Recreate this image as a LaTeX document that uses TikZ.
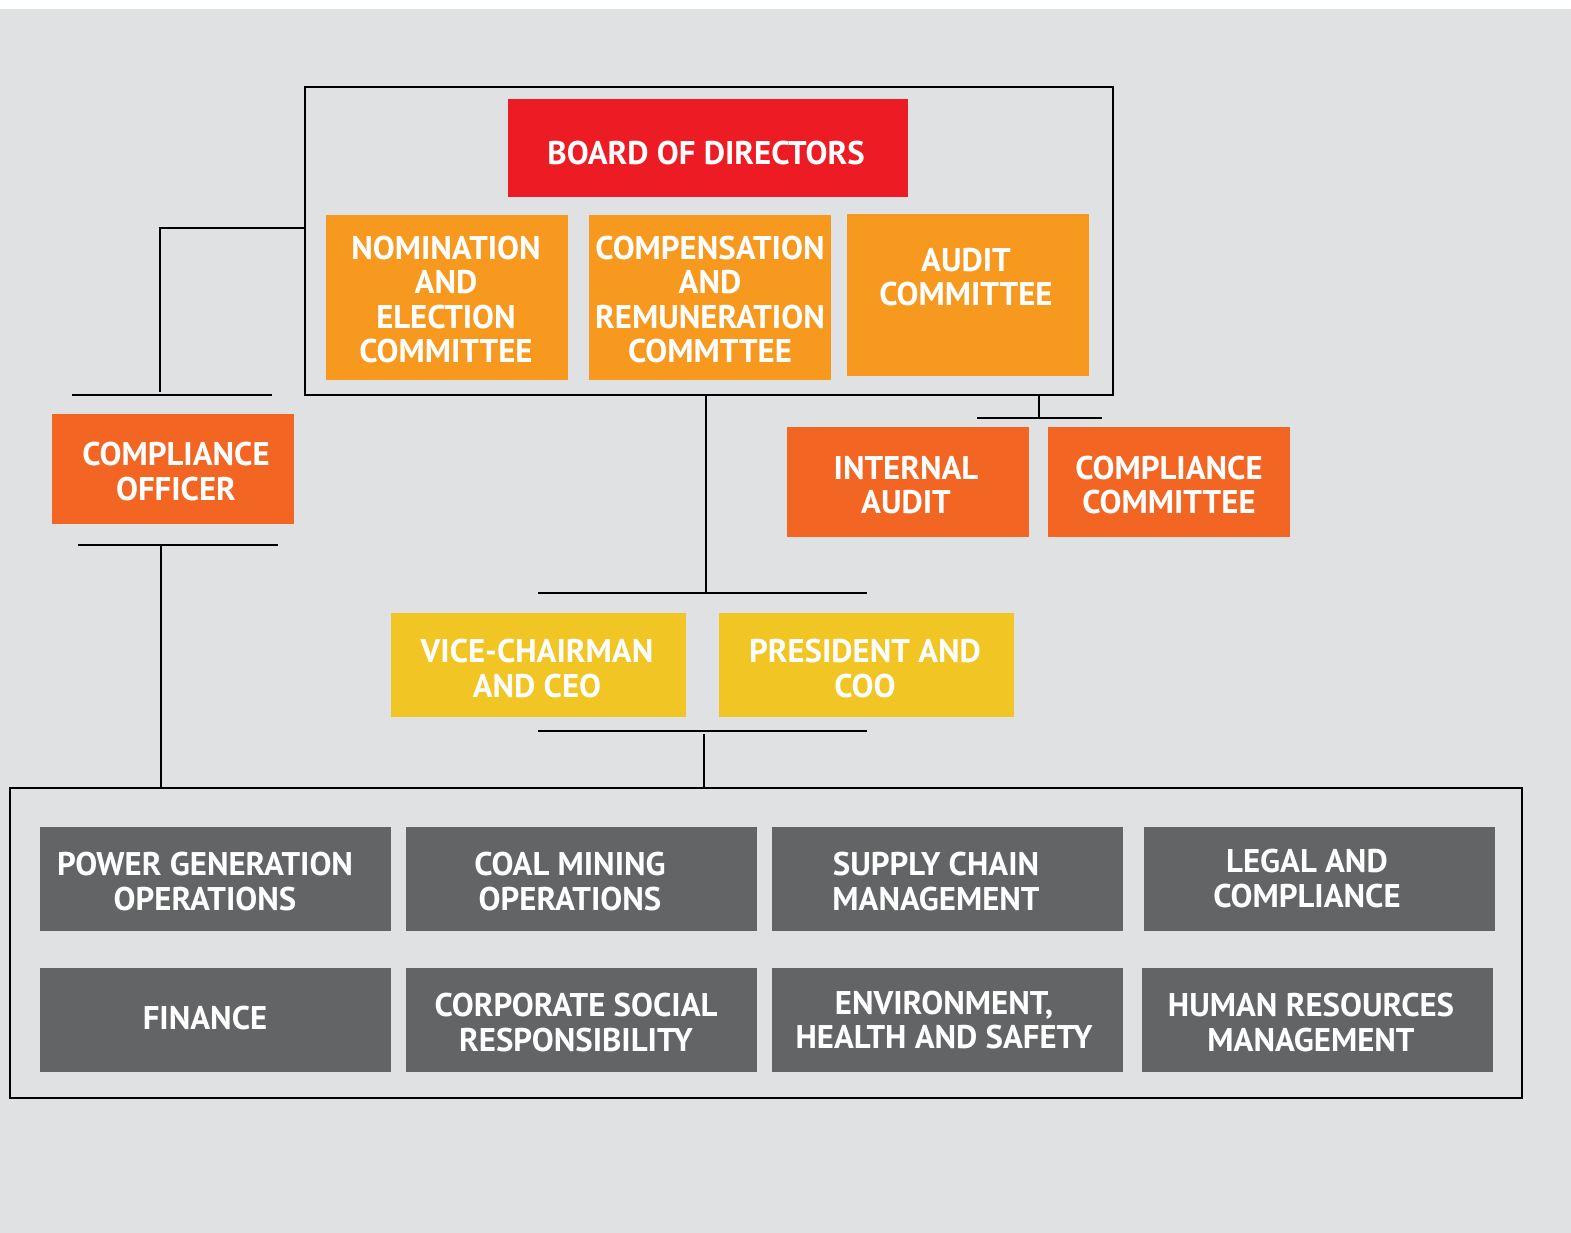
\documentclass[tikz,border=0pt]{standalone}
\usepackage{fontspec}
\setmainfont{PT Sans}
\definecolor{bgray}{HTML}{E0E1E3}
\definecolor{boardred}{HTML}{ED1C24}
\definecolor{cmtorange}{HTML}{F7981F}
\definecolor{deeporange}{HTML}{F36523}
\definecolor{execyellow}{HTML}{F1C523}
\definecolor{deptgray}{HTML}{636466}
\begin{document}
\begin{tikzpicture}[x=1pt,y=-1pt,
  box/.style={draw=none,rectangle,anchor=north west,inner sep=0pt,outer sep=0pt},
  frame/.style={draw=black,line width=2.9pt,rectangle,anchor=north west,inner sep=0pt,outer sep=0pt},
  conn/.style={draw=black,line width=2.9pt},
  lbl/.style={text=white,align=center,inner sep=0pt,
    font=\fontsize{32.8}{34.5}\selectfont\bfseries}]

% canvas
\fill[bgray] (0,0) rectangle (1571,1233);
\fill[white] (0,0) rectangle (1571,9);
\useasboundingbox (0,0) rectangle (1571,1233);

% board group
\node[frame,minimum width=808pt,minimum height=308pt] (topframe) at (305,87) {};
\node[box,fill=boardred,minimum width=400pt,minimum height=98pt] (board) at (508,99) {};
\node[lbl] (boardT) at (706,153) {BOARD OF DIRECTORS};
\node[box,fill=cmtorange,minimum width=242pt,minimum height=165pt] (nom) at (326,215) {};
\node[lbl] (nomT) at (446,299.5) {NOMINATION\\AND\\ELECTION\\COMMITTEE};
\node[box,fill=cmtorange,minimum width=242pt,minimum height=165pt] (comp) at (589,215) {};
\node[lbl] (compT) at (710,299.5) {COMPENSATION\\AND\\REMUNERATION\\COMMTTEE};
\node[box,fill=cmtorange,minimum width=242pt,minimum height=162pt] (audit) at (847,214) {};
\node[lbl] (auditT) at (966,277) {AUDIT\\COMMITTEE};

% compliance officer branch
\node[box,fill=deeporange,minimum width=242pt,minimum height=110pt] (cofficer) at (52,414) {};
\node[lbl] (cofficerT) at (176,471.5) {COMPLIANCE\\OFFICER};
\coordinate (coElbow) at (160,228);
\coordinate (coDrop) at (160,392);
\coordinate (coBarL) at (72,395);
\coordinate (coBarR) at (272,395);
\coordinate (coLowL) at (78,545);
\coordinate (coLowR) at (278,545);
\coordinate (coLowJ) at (161,545);

% audit branch
\node[box,fill=deeporange,minimum width=242pt,minimum height=110pt] (iaudit) at (787,427) {};
\node[lbl] (iauditT) at (906,485) {INTERNAL\\AUDIT};
\node[box,fill=deeporange,minimum width=242pt,minimum height=110pt] (ccomm) at (1048,427) {};
\node[lbl] (ccommT) at (1169,485) {COMPLIANCE\\COMMITTEE};
\coordinate (auJ) at (1039,418);
\coordinate (auBarL) at (977,418);
\coordinate (auBarR) at (1102,418);

% executives
\node[box,fill=execyellow,minimum width=295pt,minimum height=104pt] (ceo) at (391,613) {};
\node[lbl] (ceoT) at (537,668.5) {VICE-CHAIRMAN\\AND CEO};
\node[box,fill=execyellow,minimum width=295pt,minimum height=104pt] (coo) at (719,613) {};
\node[lbl] (cooT) at (865,668.5) {PRESIDENT AND\\COO};
\coordinate (exTopJ) at (706,593);
\coordinate (exTopL) at (538,593);
\coordinate (exTopR) at (867,593);
\coordinate (exBotL) at (538,731);
\coordinate (exBotR) at (867,731);
\coordinate (exBotJ) at (704,734);

% departments
\node[frame,minimum width=1512pt,minimum height=310pt] (depts) at (10,788) {};
\node[box,fill=deptgray,minimum width=351pt,minimum height=104pt] (power) at (40,827) {};
\node[lbl] (powerT) at (205,881.5) {POWER GENERATION\\OPERATIONS};
\node[box,fill=deptgray,minimum width=351pt,minimum height=104pt] (coal) at (406,827) {};
\node[lbl] (coalT) at (570,881.5) {COAL MINING\\OPERATIONS};
\node[box,fill=deptgray,minimum width=351pt,minimum height=104pt] (supply) at (772,827) {};
\node[lbl] (supplyT) at (936,881.5) {SUPPLY CHAIN\\MANAGEMENT};
\node[box,fill=deptgray,minimum width=351pt,minimum height=104pt] (legal) at (1144,827) {};
\node[lbl] (legalT) at (1307,878.5) {LEGAL AND\\COMPLIANCE};
\node[box,fill=deptgray,minimum width=351pt,minimum height=104pt] (finance) at (40,968) {};
\node[lbl] (financeT) at (205,1018) {FINANCE};
\node[box,fill=deptgray,minimum width=351pt,minimum height=104pt] (csr) at (406,968) {};
\node[lbl] (csrT) at (576,1022.5) {CORPORATE SOCIAL\\RESPONSIBILITY};
\node[box,fill=deptgray,minimum width=351pt,minimum height=104pt] (ehs) at (772,968) {};
\node[lbl] (ehsT) at (944,1020) {ENVIRONMENT,\\HEALTH AND SAFETY};
\node[box,fill=deptgray,minimum width=351pt,minimum height=104pt] (hr) at (1142,968) {};
\node[lbl] (hrT) at (1311,1022.5) {HUMAN RESOURCES\\MANAGEMENT};

% connectors
\draw[conn] (coElbow -| topframe.west) -- (coElbow) -- (coDrop);
\draw[conn] (coBarL) -- (coBarR);
\draw[conn] (coLowL) -- (coLowR);
\draw[conn] (coLowJ) -- (coLowJ |- depts.north);
\draw[conn] (auJ |- topframe.south) -- (auJ);
\draw[conn] (auBarL) -- (auBarR);
\draw[conn] (exTopJ |- topframe.south) -- (exTopJ);
\draw[conn] (exTopL) -- (exTopR);
\draw[conn] (exBotL) -- (exBotR);
\draw[conn] (exBotJ) -- (exBotJ |- depts.north);
\end{tikzpicture}
\end{document}
